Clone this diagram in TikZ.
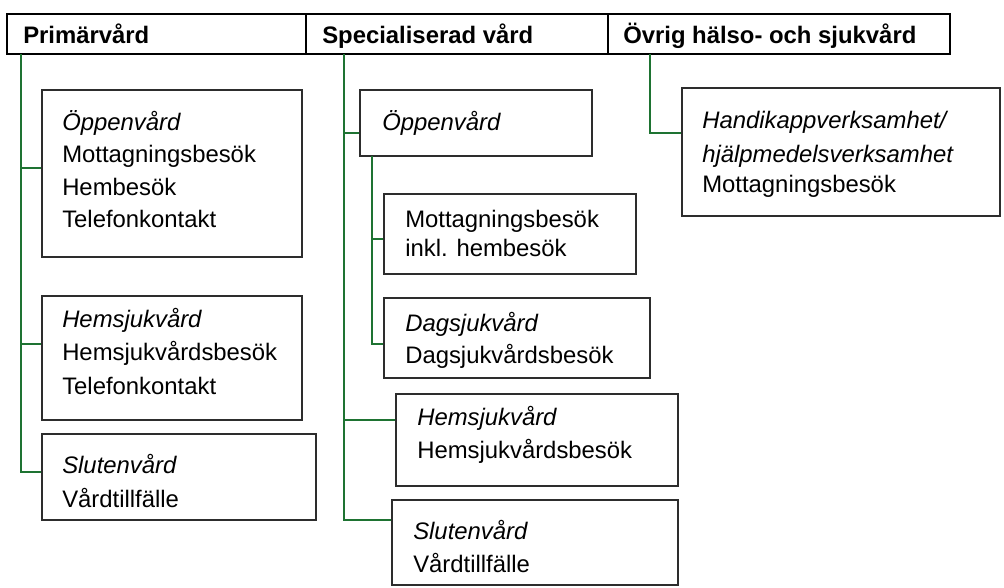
\documentclass[tikz,border=0pt]{standalone}
\usepackage{fontspec}
\setmainfont{Liberation Sans}
\usetikzlibrary{fit}
\definecolor{conngreen}{RGB}{30,115,50}
\definecolor{boxgray}{RGB}{45,45,45}
\begin{document}
\begin{tikzpicture}[x=0.75pt,y=-0.75pt,
  hdcell/.style={draw=black, line width=1.5pt, inner sep=0pt},
  box/.style={draw=boxgray, line width=0.9pt, inner sep=0pt},
  conn/.style={draw=conngreen, line width=1pt},
  txt/.style={anchor=base west, inner sep=0pt, font=\fontsize{17.9}{21}\selectfont},
  ittxt/.style={anchor=base west, inner sep=0pt, font=\fontsize{17.9}{21}\selectfont\itshape},
  hdtxt/.style={anchor=base west, inner sep=0pt, font=\fontsize{17.9}{21}\selectfont\bfseries}]
\useasboundingbox (0,0) rectangle (1004,587);

% header
\node[hdcell, fit={(7,14) (306,54)}] (h1) {};
\node[hdcell, fit={(306,14) (608,54)}] (h2) {};
\node[hdcell, fit={(608,14) (950,54)}] (h3) {};
\node[hdtxt] (h1t) at (23,43) {Primärvård};
\node[hdtxt] (h2t) at (322,43) {Specialiserad vård};
\node[hdtxt] (h3t) at (623,43) {Övrig hälso- och sjukvård};

% left column
\node[box, fit={(42,90) (302,257)}] (b1) {};
\node[ittxt] (b1a) at (62,130) {Öppenvård};
\node[txt] (b1b) at (62,162) {Mottagningsbesök};
\node[txt] (b1c) at (62,195) {Hembesök};
\node[txt] (b1d) at (62,227) {Telefonkontakt};

\node[box, fit={(42,296) (302,420)}] (b2) {};
\node[ittxt] (b2a) at (62,327) {Hemsjukvård};
\node[txt] (b2b) at (62,360) {Hemsjukvårdsbesök};
\node[txt] (b2c) at (62,394) {Telefonkontakt};

\node[box, fit={(42,434) (316,520)}] (b3) {};
\node[ittxt] (b3a) at (62,473) {Slutenvård};
\node[txt] (b3b) at (62,507) {Vårdtillfälle};

\coordinate (t1) at (21,54);
\draw[conn] (t1) |- (b3.west |- 0,472);
\draw[conn] (t1 |- 0,168) -- (b1.west |- 0,168);
\draw[conn] (t1 |- 0,344) -- (b2.west |- 0,344);

% middle column
\node[box, fit={(360,90) (592,156)}] (m1) {};
\node[ittxt] (m1a) at (382,130) {Öppenvård};

\node[box, fit={(384,194) (636,274)}] (m2) {};
\node[txt] (m2a) at (405,227) {Mottagningsbesök};
\node[txt] (m2b) at (405,256) {inkl. hembesök};

\node[box, fit={(384,298) (650,378)}] (m3) {};
\node[ittxt] (m3a) at (405,331) {Dagsjukvård};
\node[txt] (m3b) at (405,363) {Dagsjukvårdsbesök};

\node[box, fit={(396,394) (678,486)}] (m4) {};
\node[ittxt] (m4a) at (417,425) {Hemsjukvård};
\node[txt] (m4b) at (417,458) {Hemsjukvårdsbesök};

\node[box, fit={(392,500) (678,585)}] (m5) {};
\node[ittxt] (m5a) at (413,539) {Slutenvård};
\node[txt] (m5b) at (413,572) {Vårdtillfälle};

\coordinate (t2) at (344,54);
\draw[conn] (t2) |- (m5.west |- 0,520);
\draw[conn] (t2 |- 0,133) -- (m1.west |- 0,133);
\draw[conn] (t2 |- 0,420) -- (m4.west |- 0,420);

\coordinate (t2s) at (372,156);
\draw[conn] (t2s) |- (m3.west |- 0,344);
\draw[conn] (t2s |- 0,239) -- (m2.west |- 0,239);

% right column
\node[box, fit={(682,88) (1000,216)}] (r1) {};
\node[ittxt] (r1a) at (702,128) {Handikappverksamhet/};
\node[ittxt] (r1b) at (702,162) {hjälpmedelsverksamhet};
\node[txt] (r1c) at (702,192) {Mottagningsbesök};

\coordinate (t3) at (650,54);
\draw[conn] (t3) |- (r1.west |- 0,133);
\end{tikzpicture}
\end{document}
